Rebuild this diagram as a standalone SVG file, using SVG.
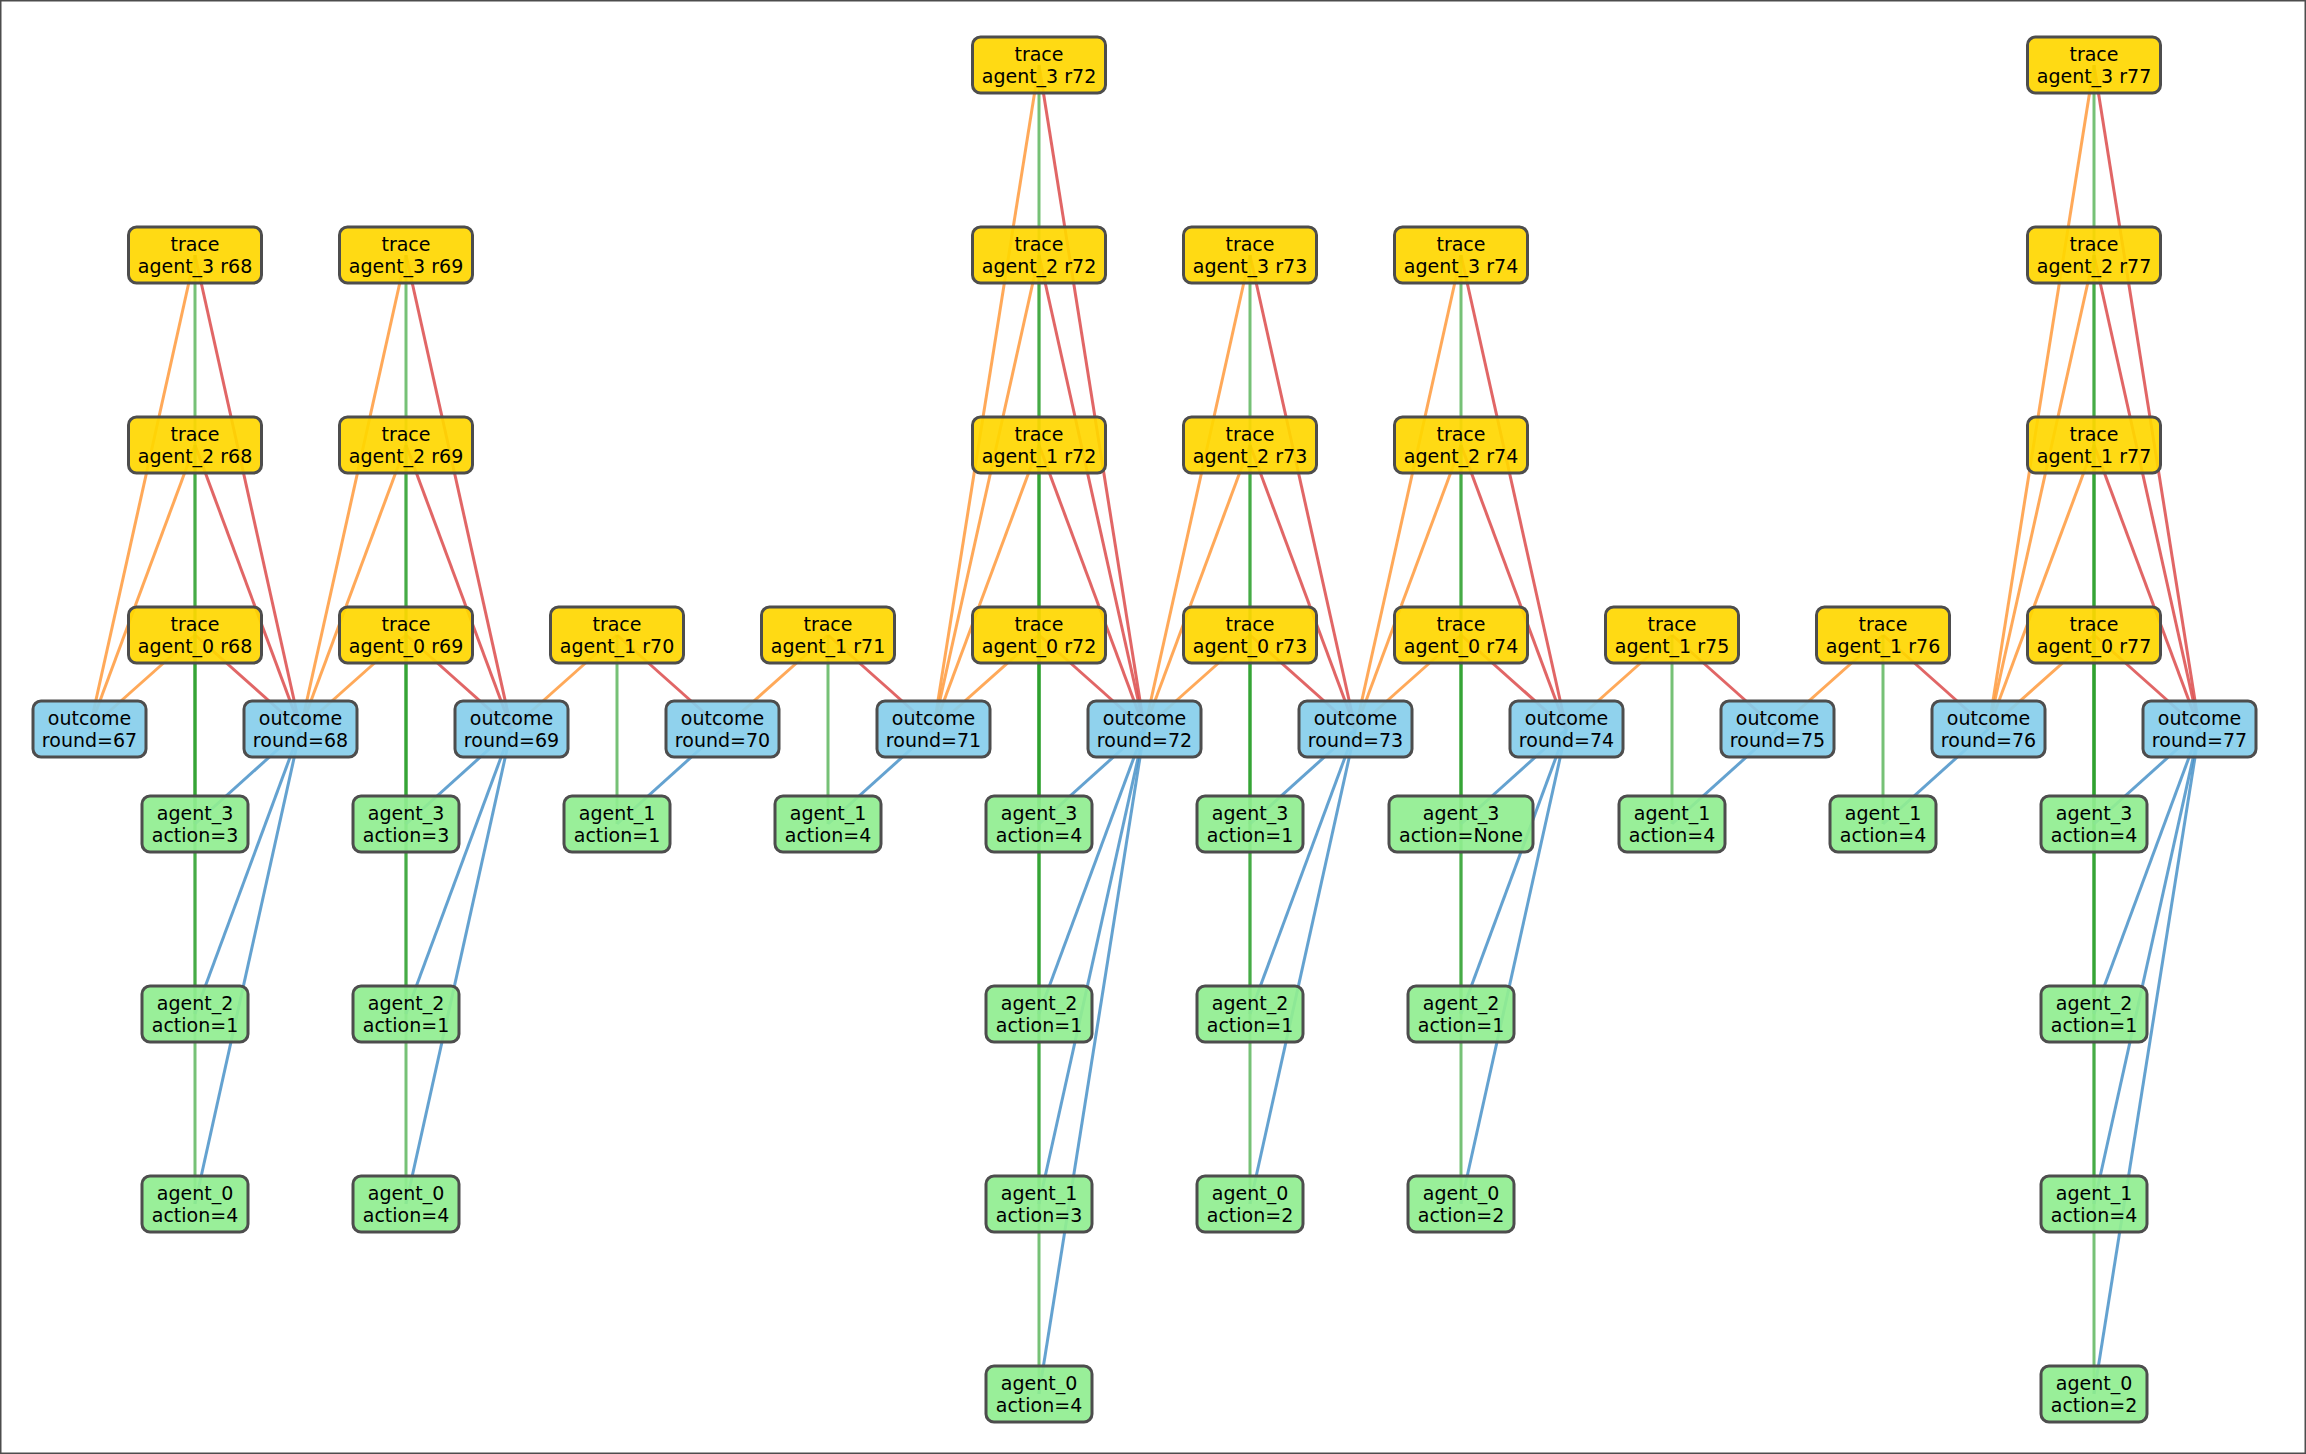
<svg xmlns="http://www.w3.org/2000/svg" width="2306" height="1454" viewBox="0 0 2306 1454">
<style>
text{font-family:"DejaVu Sans","Liberation Sans",sans-serif;font-size:19px;fill:#000;text-anchor:middle}
rect{stroke:#4d4d4d;stroke-width:3;fill-opacity:0.92}
.t rect{fill:#ffd700}
.o rect{fill:#87ceeb}
.a rect{fill:#90ee90}
line{stroke-width:3}
.or{stroke:#ff9a3c;stroke-opacity:0.85}
.rd{stroke:#dc4b4b;stroke-opacity:0.85}
.gr{stroke:#2ca02c;stroke-opacity:0.65}
.bl{stroke:#3d8bc4;stroke-opacity:0.8}
</style>
<rect width="2306" height="1454" fill="#fff" stroke="none" fill-opacity="1"/>
<g id="connectors">
<!-- c68 -->
<line class="or" x1="195" y1="255" x2="89.5" y2="729"/><line class="or" x1="195" y1="445" x2="89.5" y2="729"/><line class="or" x1="195" y1="635" x2="89.5" y2="729"/>
<line class="rd" x1="195" y1="255" x2="300.5" y2="729"/><line class="rd" x1="195" y1="445" x2="300.5" y2="729"/><line class="rd" x1="195" y1="635" x2="300.5" y2="729"/>
<line class="gr" x1="195" y1="255" x2="195" y2="824"/><line class="gr" x1="195" y1="445" x2="195" y2="1014"/><line class="gr" x1="195" y1="635" x2="195" y2="1204"/>
<line class="bl" x1="300.5" y1="729" x2="195" y2="824"/><line class="bl" x1="300.5" y1="729" x2="195" y2="1014"/><line class="bl" x1="300.5" y1="729" x2="195" y2="1204"/>
<!-- c69 -->
<line class="or" x1="406" y1="255" x2="300.5" y2="729"/><line class="or" x1="406" y1="445" x2="300.5" y2="729"/><line class="or" x1="406" y1="635" x2="300.5" y2="729"/>
<line class="rd" x1="406" y1="255" x2="511.5" y2="729"/><line class="rd" x1="406" y1="445" x2="511.5" y2="729"/><line class="rd" x1="406" y1="635" x2="511.5" y2="729"/>
<line class="gr" x1="406" y1="255" x2="406" y2="824"/><line class="gr" x1="406" y1="445" x2="406" y2="1014"/><line class="gr" x1="406" y1="635" x2="406" y2="1204"/>
<line class="bl" x1="511.5" y1="729" x2="406" y2="824"/><line class="bl" x1="511.5" y1="729" x2="406" y2="1014"/><line class="bl" x1="511.5" y1="729" x2="406" y2="1204"/>
<!-- c70 -->
<line class="or" x1="617" y1="635" x2="511.5" y2="729"/><line class="rd" x1="617" y1="635" x2="722.5" y2="729"/>
<line class="gr" x1="617" y1="635" x2="617" y2="824"/><line class="bl" x1="722.5" y1="729" x2="617" y2="824"/>
<!-- c71 -->
<line class="or" x1="828" y1="635" x2="722.5" y2="729"/><line class="rd" x1="828" y1="635" x2="933.5" y2="729"/>
<line class="gr" x1="828" y1="635" x2="828" y2="824"/><line class="bl" x1="933.5" y1="729" x2="828" y2="824"/>
<!-- c72 -->
<line class="or" x1="1039" y1="65" x2="933.5" y2="729"/><line class="or" x1="1039" y1="255" x2="933.5" y2="729"/><line class="or" x1="1039" y1="445" x2="933.5" y2="729"/><line class="or" x1="1039" y1="635" x2="933.5" y2="729"/>
<line class="rd" x1="1039" y1="65" x2="1144.5" y2="729"/><line class="rd" x1="1039" y1="255" x2="1144.5" y2="729"/><line class="rd" x1="1039" y1="445" x2="1144.5" y2="729"/><line class="rd" x1="1039" y1="635" x2="1144.5" y2="729"/>
<line class="gr" x1="1039" y1="65" x2="1039" y2="824"/><line class="gr" x1="1039" y1="255" x2="1039" y2="1014"/><line class="gr" x1="1039" y1="445" x2="1039" y2="1204"/><line class="gr" x1="1039" y1="635" x2="1039" y2="1394"/>
<line class="bl" x1="1144.5" y1="729" x2="1039" y2="824"/><line class="bl" x1="1144.5" y1="729" x2="1039" y2="1014"/><line class="bl" x1="1144.5" y1="729" x2="1039" y2="1204"/><line class="bl" x1="1144.5" y1="729" x2="1039" y2="1394"/>
<!-- c73 -->
<line class="or" x1="1250" y1="255" x2="1144.5" y2="729"/><line class="or" x1="1250" y1="445" x2="1144.5" y2="729"/><line class="or" x1="1250" y1="635" x2="1144.5" y2="729"/>
<line class="rd" x1="1250" y1="255" x2="1355.5" y2="729"/><line class="rd" x1="1250" y1="445" x2="1355.5" y2="729"/><line class="rd" x1="1250" y1="635" x2="1355.5" y2="729"/>
<line class="gr" x1="1250" y1="255" x2="1250" y2="824"/><line class="gr" x1="1250" y1="445" x2="1250" y2="1014"/><line class="gr" x1="1250" y1="635" x2="1250" y2="1204"/>
<line class="bl" x1="1355.5" y1="729" x2="1250" y2="824"/><line class="bl" x1="1355.5" y1="729" x2="1250" y2="1014"/><line class="bl" x1="1355.5" y1="729" x2="1250" y2="1204"/>
<!-- c74 -->
<line class="or" x1="1461" y1="255" x2="1355.5" y2="729"/><line class="or" x1="1461" y1="445" x2="1355.5" y2="729"/><line class="or" x1="1461" y1="635" x2="1355.5" y2="729"/>
<line class="rd" x1="1461" y1="255" x2="1566.5" y2="729"/><line class="rd" x1="1461" y1="445" x2="1566.5" y2="729"/><line class="rd" x1="1461" y1="635" x2="1566.5" y2="729"/>
<line class="gr" x1="1461" y1="255" x2="1461" y2="824"/><line class="gr" x1="1461" y1="445" x2="1461" y2="1014"/><line class="gr" x1="1461" y1="635" x2="1461" y2="1204"/>
<line class="bl" x1="1566.5" y1="729" x2="1461" y2="824"/><line class="bl" x1="1566.5" y1="729" x2="1461" y2="1014"/><line class="bl" x1="1566.5" y1="729" x2="1461" y2="1204"/>
<!-- c75 -->
<line class="or" x1="1672" y1="635" x2="1566.5" y2="729"/><line class="rd" x1="1672" y1="635" x2="1777.5" y2="729"/>
<line class="gr" x1="1672" y1="635" x2="1672" y2="824"/><line class="bl" x1="1777.5" y1="729" x2="1672" y2="824"/>
<!-- c76 -->
<line class="or" x1="1883" y1="635" x2="1777.5" y2="729"/><line class="rd" x1="1883" y1="635" x2="1988.5" y2="729"/>
<line class="gr" x1="1883" y1="635" x2="1883" y2="824"/><line class="bl" x1="1988.5" y1="729" x2="1883" y2="824"/>
<!-- c77 -->
<line class="or" x1="2094" y1="65" x2="1988.5" y2="729"/><line class="or" x1="2094" y1="255" x2="1988.5" y2="729"/><line class="or" x1="2094" y1="445" x2="1988.5" y2="729"/><line class="or" x1="2094" y1="635" x2="1988.5" y2="729"/>
<line class="rd" x1="2094" y1="65" x2="2199.5" y2="729"/><line class="rd" x1="2094" y1="255" x2="2199.5" y2="729"/><line class="rd" x1="2094" y1="445" x2="2199.5" y2="729"/><line class="rd" x1="2094" y1="635" x2="2199.5" y2="729"/>
<line class="gr" x1="2094" y1="65" x2="2094" y2="824"/><line class="gr" x1="2094" y1="255" x2="2094" y2="1014"/><line class="gr" x1="2094" y1="445" x2="2094" y2="1204"/><line class="gr" x1="2094" y1="635" x2="2094" y2="1394"/>
<line class="bl" x1="2199.5" y1="729" x2="2094" y2="824"/><line class="bl" x1="2199.5" y1="729" x2="2094" y2="1014"/><line class="bl" x1="2199.5" y1="729" x2="2094" y2="1204"/><line class="bl" x1="2199.5" y1="729" x2="2094" y2="1394"/>
</g>
<!-- outcomes -->
<g id="out67" class="o"><rect x="33" y="701" width="113" height="56" rx="8"/><text x="89.5" y="725">outcome</text><text x="89.5" y="747">round=67</text></g>
<g id="out68" class="o"><rect x="244" y="701" width="113" height="56" rx="8"/><text x="300.5" y="725">outcome</text><text x="300.5" y="747">round=68</text></g>
<g id="out69" class="o"><rect x="455" y="701" width="113" height="56" rx="8"/><text x="511.5" y="725">outcome</text><text x="511.5" y="747">round=69</text></g>
<g id="out70" class="o"><rect x="666" y="701" width="113" height="56" rx="8"/><text x="722.5" y="725">outcome</text><text x="722.5" y="747">round=70</text></g>
<g id="out71" class="o"><rect x="877" y="701" width="113" height="56" rx="8"/><text x="933.5" y="725">outcome</text><text x="933.5" y="747">round=71</text></g>
<g id="out72" class="o"><rect x="1088" y="701" width="113" height="56" rx="8"/><text x="1144.5" y="725">outcome</text><text x="1144.5" y="747">round=72</text></g>
<g id="out73" class="o"><rect x="1299" y="701" width="113" height="56" rx="8"/><text x="1355.5" y="725">outcome</text><text x="1355.5" y="747">round=73</text></g>
<g id="out74" class="o"><rect x="1510" y="701" width="113" height="56" rx="8"/><text x="1566.5" y="725">outcome</text><text x="1566.5" y="747">round=74</text></g>
<g id="out75" class="o"><rect x="1721" y="701" width="113" height="56" rx="8"/><text x="1777.5" y="725">outcome</text><text x="1777.5" y="747">round=75</text></g>
<g id="out76" class="o"><rect x="1932" y="701" width="113" height="56" rx="8"/><text x="1988.5" y="725">outcome</text><text x="1988.5" y="747">round=76</text></g>
<g id="out77" class="o"><rect x="2143" y="701" width="113" height="56" rx="8"/><text x="2199.5" y="725">outcome</text><text x="2199.5" y="747">round=77</text></g>
<!-- traces -->
<g id="t3r68" class="t"><rect x="128.5" y="227" width="133" height="56" rx="8"/><text x="195" y="251">trace</text><text x="195" y="273">agent_3 r68</text></g>
<g id="t2r68" class="t"><rect x="128.5" y="417" width="133" height="56" rx="8"/><text x="195" y="441">trace</text><text x="195" y="463">agent_2 r68</text></g>
<g id="t0r68" class="t"><rect x="128.5" y="607" width="133" height="56" rx="8"/><text x="195" y="631">trace</text><text x="195" y="653">agent_0 r68</text></g>
<g id="t3r69" class="t"><rect x="339.5" y="227" width="133" height="56" rx="8"/><text x="406" y="251">trace</text><text x="406" y="273">agent_3 r69</text></g>
<g id="t2r69" class="t"><rect x="339.5" y="417" width="133" height="56" rx="8"/><text x="406" y="441">trace</text><text x="406" y="463">agent_2 r69</text></g>
<g id="t0r69" class="t"><rect x="339.5" y="607" width="133" height="56" rx="8"/><text x="406" y="631">trace</text><text x="406" y="653">agent_0 r69</text></g>
<g id="t1r70" class="t"><rect x="550.5" y="607" width="133" height="56" rx="8"/><text x="617" y="631">trace</text><text x="617" y="653">agent_1 r70</text></g>
<g id="t1r71" class="t"><rect x="761.5" y="607" width="133" height="56" rx="8"/><text x="828" y="631">trace</text><text x="828" y="653">agent_1 r71</text></g>
<g id="t3r72" class="t"><rect x="972.5" y="37" width="133" height="56" rx="8"/><text x="1039" y="61">trace</text><text x="1039" y="83">agent_3 r72</text></g>
<g id="t2r72" class="t"><rect x="972.5" y="227" width="133" height="56" rx="8"/><text x="1039" y="251">trace</text><text x="1039" y="273">agent_2 r72</text></g>
<g id="t1r72" class="t"><rect x="972.5" y="417" width="133" height="56" rx="8"/><text x="1039" y="441">trace</text><text x="1039" y="463">agent_1 r72</text></g>
<g id="t0r72" class="t"><rect x="972.5" y="607" width="133" height="56" rx="8"/><text x="1039" y="631">trace</text><text x="1039" y="653">agent_0 r72</text></g>
<g id="t3r73" class="t"><rect x="1183.5" y="227" width="133" height="56" rx="8"/><text x="1250" y="251">trace</text><text x="1250" y="273">agent_3 r73</text></g>
<g id="t2r73" class="t"><rect x="1183.5" y="417" width="133" height="56" rx="8"/><text x="1250" y="441">trace</text><text x="1250" y="463">agent_2 r73</text></g>
<g id="t0r73" class="t"><rect x="1183.5" y="607" width="133" height="56" rx="8"/><text x="1250" y="631">trace</text><text x="1250" y="653">agent_0 r73</text></g>
<g id="t3r74" class="t"><rect x="1394.5" y="227" width="133" height="56" rx="8"/><text x="1461" y="251">trace</text><text x="1461" y="273">agent_3 r74</text></g>
<g id="t2r74" class="t"><rect x="1394.5" y="417" width="133" height="56" rx="8"/><text x="1461" y="441">trace</text><text x="1461" y="463">agent_2 r74</text></g>
<g id="t0r74" class="t"><rect x="1394.5" y="607" width="133" height="56" rx="8"/><text x="1461" y="631">trace</text><text x="1461" y="653">agent_0 r74</text></g>
<g id="t1r75" class="t"><rect x="1605.5" y="607" width="133" height="56" rx="8"/><text x="1672" y="631">trace</text><text x="1672" y="653">agent_1 r75</text></g>
<g id="t1r76" class="t"><rect x="1816.5" y="607" width="133" height="56" rx="8"/><text x="1883" y="631">trace</text><text x="1883" y="653">agent_1 r76</text></g>
<g id="t3r77" class="t"><rect x="2027.5" y="37" width="133" height="56" rx="8"/><text x="2094" y="61">trace</text><text x="2094" y="83">agent_3 r77</text></g>
<g id="t2r77" class="t"><rect x="2027.5" y="227" width="133" height="56" rx="8"/><text x="2094" y="251">trace</text><text x="2094" y="273">agent_2 r77</text></g>
<g id="t1r77" class="t"><rect x="2027.5" y="417" width="133" height="56" rx="8"/><text x="2094" y="441">trace</text><text x="2094" y="463">agent_1 r77</text></g>
<g id="t0r77" class="t"><rect x="2027.5" y="607" width="133" height="56" rx="8"/><text x="2094" y="631">trace</text><text x="2094" y="653">agent_0 r77</text></g>
<!-- actions -->
<g id="a3r68" class="a"><rect x="142" y="796" width="106" height="56" rx="8"/><text x="195" y="820">agent_3</text><text x="195" y="842">action=3</text></g>
<g id="a2r68" class="a"><rect x="142" y="986" width="106" height="56" rx="8"/><text x="195" y="1010">agent_2</text><text x="195" y="1032">action=1</text></g>
<g id="a0r68" class="a"><rect x="142" y="1176" width="106" height="56" rx="8"/><text x="195" y="1200">agent_0</text><text x="195" y="1222">action=4</text></g>
<g id="a3r69" class="a"><rect x="353" y="796" width="106" height="56" rx="8"/><text x="406" y="820">agent_3</text><text x="406" y="842">action=3</text></g>
<g id="a2r69" class="a"><rect x="353" y="986" width="106" height="56" rx="8"/><text x="406" y="1010">agent_2</text><text x="406" y="1032">action=1</text></g>
<g id="a0r69" class="a"><rect x="353" y="1176" width="106" height="56" rx="8"/><text x="406" y="1200">agent_0</text><text x="406" y="1222">action=4</text></g>
<g id="a1r70" class="a"><rect x="564" y="796" width="106" height="56" rx="8"/><text x="617" y="820">agent_1</text><text x="617" y="842">action=1</text></g>
<g id="a1r71" class="a"><rect x="775" y="796" width="106" height="56" rx="8"/><text x="828" y="820">agent_1</text><text x="828" y="842">action=4</text></g>
<g id="a3r72" class="a"><rect x="986" y="796" width="106" height="56" rx="8"/><text x="1039" y="820">agent_3</text><text x="1039" y="842">action=4</text></g>
<g id="a2r72" class="a"><rect x="986" y="986" width="106" height="56" rx="8"/><text x="1039" y="1010">agent_2</text><text x="1039" y="1032">action=1</text></g>
<g id="a1r72" class="a"><rect x="986" y="1176" width="106" height="56" rx="8"/><text x="1039" y="1200">agent_1</text><text x="1039" y="1222">action=3</text></g>
<g id="a0r72" class="a"><rect x="986" y="1366" width="106" height="56" rx="8"/><text x="1039" y="1390">agent_0</text><text x="1039" y="1412">action=4</text></g>
<g id="a3r73" class="a"><rect x="1197" y="796" width="106" height="56" rx="8"/><text x="1250" y="820">agent_3</text><text x="1250" y="842">action=1</text></g>
<g id="a2r73" class="a"><rect x="1197" y="986" width="106" height="56" rx="8"/><text x="1250" y="1010">agent_2</text><text x="1250" y="1032">action=1</text></g>
<g id="a0r73" class="a"><rect x="1197" y="1176" width="106" height="56" rx="8"/><text x="1250" y="1200">agent_0</text><text x="1250" y="1222">action=2</text></g>
<g id="a3r74" class="a"><rect x="1389" y="796" width="144" height="56" rx="8"/><text x="1461" y="820">agent_3</text><text x="1461" y="842">action=None</text></g>
<g id="a2r74" class="a"><rect x="1408" y="986" width="106" height="56" rx="8"/><text x="1461" y="1010">agent_2</text><text x="1461" y="1032">action=1</text></g>
<g id="a0r74" class="a"><rect x="1408" y="1176" width="106" height="56" rx="8"/><text x="1461" y="1200">agent_0</text><text x="1461" y="1222">action=2</text></g>
<g id="a1r75" class="a"><rect x="1619" y="796" width="106" height="56" rx="8"/><text x="1672" y="820">agent_1</text><text x="1672" y="842">action=4</text></g>
<g id="a1r76" class="a"><rect x="1830" y="796" width="106" height="56" rx="8"/><text x="1883" y="820">agent_1</text><text x="1883" y="842">action=4</text></g>
<g id="a3r77" class="a"><rect x="2041" y="796" width="106" height="56" rx="8"/><text x="2094" y="820">agent_3</text><text x="2094" y="842">action=4</text></g>
<g id="a2r77" class="a"><rect x="2041" y="986" width="106" height="56" rx="8"/><text x="2094" y="1010">agent_2</text><text x="2094" y="1032">action=1</text></g>
<g id="a1r77" class="a"><rect x="2041" y="1176" width="106" height="56" rx="8"/><text x="2094" y="1200">agent_1</text><text x="2094" y="1222">action=4</text></g>
<g id="a0r77" class="a"><rect x="2041" y="1366" width="106" height="56" rx="8"/><text x="2094" y="1390">agent_0</text><text x="2094" y="1412">action=2</text></g>
</svg>
